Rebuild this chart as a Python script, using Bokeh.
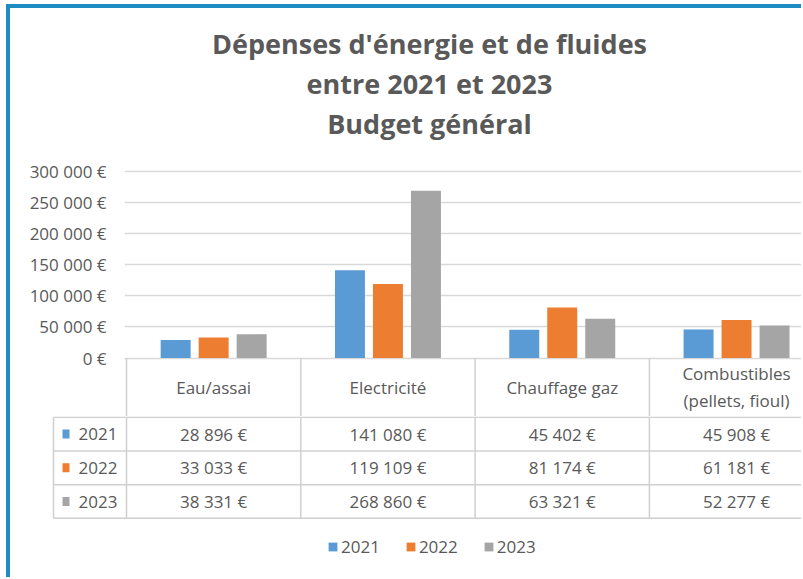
from bokeh.plotting import figure
from bokeh.layouts import column
from bokeh.models import (Range1d, FixedTicker, Title, Legend, LegendItem,
                          ColumnDataSource, Plot)
from bokeh.transform import dodge
from bokeh.core.properties import value
from bokeh.embed import file_html
from bokeh.resources import INLINE

# ---------------- data ----------------
categories = ["Eau/assai", "Electricité", "Chauffage gaz",
              "Combustibles\n(pellets, fioul)"]
years = ["2021", "2022", "2023"]
v2021 = [28896, 141080, 45402, 45908]
v2022 = [33033, 119109, 81174, 61181]
v2023 = [38331, 268860, 63321, 52277]
y_ticks = [0, 50000, 100000, 150000, 200000, 250000, 300000]
title_lines = ["Dépenses d'énergie et de fluides", "entre 2021 et 2023",
               "Budget général"]
colors = ["#5B9BD5", "#ED7D31", "#A5A5A5"]

# ---------------- style / layout ----------------
FONT = "Open Sans"
FS = "17px"
TXT = "#595959"
GRID = "#d9d9d9"
TBL = "#d0d0d0"
BLUE = "#1e8bc3"
W = 791
CAT_PX = 174.3          # pixels per category column
ZERO_X = 116            # canvas x of the first category boundary
A_LEFT = 114            # frame left of bar chart
B_LEFT = 36             # frame left of table figure
ROW_LEFT_PX = 43        # left edge of row-label column
X_END = (W - ZERO_X) / CAT_PX
ROW_PX = 33.7           # table row height
HDR_PX = 58             # table header height
H_T = 145
A_FRAME_TOP, A_TOP_TICK, A_ZERO = 16, 18, 204.5
H_A = 263
H_B = 161
NOALIGN = {"frame_align": False} if "frame_align" in Plot.properties() else {}


def eur(v):
    return f"{v:,}".replace(",", "\u00a0") + "\u00a0€"


values = {"2021": v2021, "2022": v2022, "2023": v2023}

# ---------------- title figure ----------------
pt = figure(width=W, height=H_T, title=None, output_backend="svg",
            toolbar_location=None, x_axis_location=None, y_axis_location=None,
            min_border_left=2 * 419 - W, min_border_right=0,
            min_border_top=134, min_border_bottom=0, outline_line_color=None,
            **NOALIGN)
pt.grid.visible = False
for line in reversed(title_lines):
    pt.add_layout(Title(text=line, align="center", text_font=FONT,
                        text_font_size="27px", text_font_style="bold",
                        text_color=TXT, standoff=1), "above")

# ---------------- bar figure (with table header) ----------------
ppu = (A_ZERO - A_TOP_TICK) / y_ticks[-1]
pa = figure(width=W, height=H_A, title=None, output_backend="svg",
            toolbar_location=None, x_axis_location=None,
            x_range=Range1d((A_LEFT - ZERO_X) / CAT_PX, X_END),
            y_range=Range1d(-(H_A - A_ZERO) / ppu,
                            y_ticks[-1] + (A_TOP_TICK - A_FRAME_TOP) / ppu),
            min_border_left=A_LEFT, min_border_right=0,
            min_border_top=A_FRAME_TOP, min_border_bottom=0,
            outline_line_color=None, **NOALIGN)
n = len(categories)
nr = len(years)
xs = [i + 0.5 for i in range(n)]
src = ColumnDataSource(dict(x=xs, **{"v" + y: values[y] for y in years}))
for j, (yr, col) in enumerate(zip(years, colors)):
    pa.vbar(x=dodge("x", (j - 1) * 0.218, range=pa.x_range), top="v" + yr,
            width=0.172, source=src, fill_color=col, line_color=None)
# table header: vertical separators and category names
hx = list(range(n + 1))
pa.segment(x0=hx, y0=[0] * len(hx), x1=hx, y1=[pa.y_range.start] * len(hx),
           line_color=TBL, line_width=1.5)
pa.text(x=xs, y=[-HDR_PX / 2 / ppu] * n, text=categories, text_align="center",
        text_baseline="middle", text_font=value(FONT), text_font_size=FS,
        text_color=TXT, text_line_height=1.16)
pa.xgrid.visible = False
pa.ygrid.ticker = FixedTicker(ticks=y_ticks)
pa.ygrid.grid_line_color = GRID
pa.ygrid.grid_line_width = 1.5
ax = pa.yaxis[0]
ax.ticker = FixedTicker(ticks=y_ticks)
ax.major_label_overrides = {t: eur(t) for t in y_ticks}
ax.axis_line_color = None
ax.major_tick_line_color = None
ax.minor_tick_line_color = None
ax.major_label_standoff = 12
ax.major_label_text_font = FONT
ax.major_label_text_font_size = FS
ax.major_label_text_color = TXT

# ---------------- table rows + legend figure ----------------
x_start = (B_LEFT - ZERO_X) / CAT_PX
row_left = (ROW_LEFT_PX - ZERO_X) / CAT_PX
pb = figure(width=W, height=H_B, title=None, output_backend="svg",
            toolbar_location=None, x_axis_location=None, y_axis_location=None,
            x_range=Range1d(x_start, X_END),
            y_range=Range1d((H_B - 0.75) / ROW_PX, -0.75 / ROW_PX),
            min_border_left=B_LEFT, min_border_right=0, min_border_top=0,
            min_border_bottom=0, outline_line_color=None, **NOALIGN)
pb.grid.visible = False
# horizontal lines
hy = list(range(nr + 1))
pb.segment(x0=[row_left] * len(hy), y0=hy, x1=[n] * len(hy), y1=hy,
           line_color=TBL, line_width=1.5)
# vertical lines
vx = [row_left] + list(range(n + 1))
pb.segment(x0=vx, y0=[0] * len(vx), x1=vx, y1=[nr] * len(vx),
           line_color=TBL, line_width=1.5)
# cell values
cx, cy, ct = [], [], []
for j, yr in enumerate(years):
    for i in range(n):
        cx.append(xs[i])
        cy.append(j + 0.5)
        ct.append(eur(values[yr][i]))
pb.text(x=cx, y=cy, text=ct, text_align="center", text_baseline="middle",
        text_font=value(FONT), text_font_size=FS, text_color=TXT)
# row labels
ry = [j + 0.5 for j in range(nr)]
sq = pb.rect(x=[row_left + 12.5 / CAT_PX] * nr, y=ry, width=7, height=9,
             width_units="screen", height_units="screen",
             fill_color=colors, line_color=None)
pb.text(x=[row_left] * nr, y=ry, text=years, x_offset=25, text_align="left",
        text_baseline="middle", text_font=value(FONT), text_font_size=FS,
        text_color=TXT)
legend = Legend(items=[LegendItem(label=yr, renderers=[sq], index=j)
                       for j, yr in enumerate(years)],
                orientation="horizontal", location=(281, 19),
                glyph_width=11, glyph_height=11, label_standoff=3, spacing=25,
                padding=0, margin=0, border_line_color=None,
                background_fill_alpha=0, label_text_font=FONT,
                label_text_font_size=FS, label_text_color=TXT)
pb.add_layout(legend)

layout = column(pt, pa, pb, spacing=0,
                styles={"margin-left": "6px", "margin-top": "4px",
                        "border-left": f"4px solid {BLUE}",
                        "border-top": f"4px solid {BLUE}"})

open("out.html", "w").write(file_html(layout, INLINE))
